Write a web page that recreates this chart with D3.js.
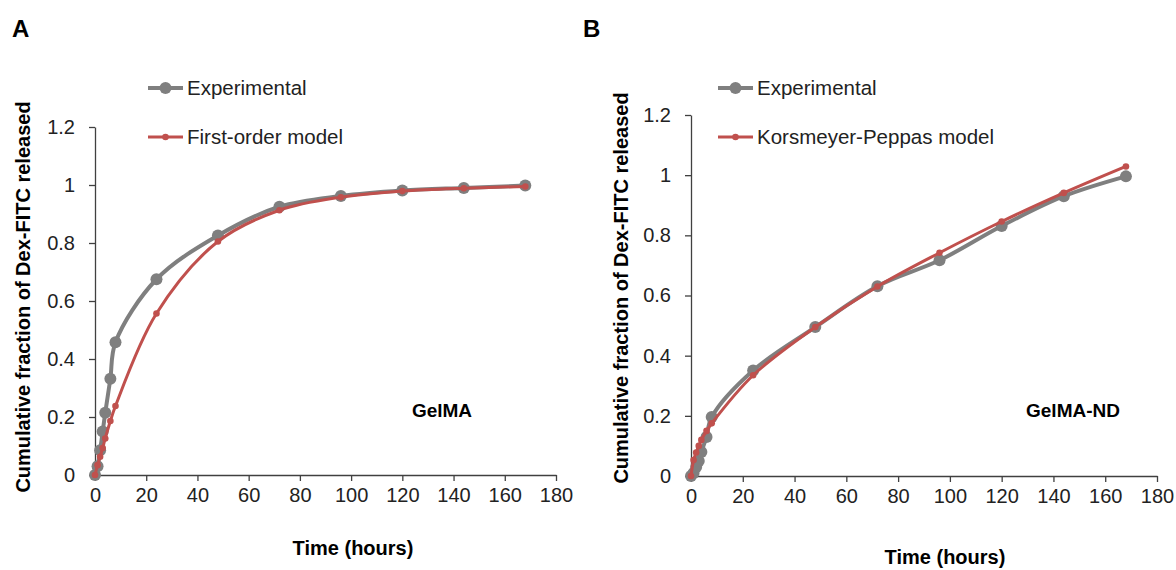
<!DOCTYPE html>
<html>
<head>
  <meta charset="utf-8">
  <title>Dex-FITC release</title>
  <script src="https://cdn.jsdelivr.net/npm/d3@7"></script>
  <style>
    body { margin: 0; background: #fff; }
    text { font-family: "Liberation Sans", Arial, sans-serif; }
  </style>
</head>
<body>
  <svg width="1176" height="570" id="mainsvg"></svg>
  <script>
    // sampling times (hours), shared by both panels
    const times = [0, 1, 2, 3, 4, 6, 8, 24, 48, 72, 96, 120, 144, 168];

    // panel A - GelMA
    const gelmaExp = [0, 0.03, 0.085, 0.15, 0.215, 0.332, 0.458, 0.675, 0.826, 0.925, 0.962, 0.981, 0.99, 0.998];
    const gelmaFirstOrder = [0, 0.034, 0.063, 0.093, 0.126, 0.186, 0.238, 0.557, 0.805, 0.913, 0.958, 0.979, 0.989, 0.995];

    // panel B - GelMA-ND
    const ndExp = [0, 0.01, 0.03, 0.05, 0.08, 0.13, 0.196, 0.351, 0.495, 0.631, 0.717, 0.831, 0.93, 0.996];
    const ndKorsmeyer = [0, 0.053, 0.078, 0.1, 0.12, 0.15, 0.175, 0.335, 0.495, 0.63, 0.742, 0.846, 0.941, 1.029];

    const xTicks = [0, 20, 40, 60, 80, 100, 120, 140, 160, 180];
    const yTicks = [0, 0.2, 0.4, 0.6, 0.8, 1, 1.2];

    const grey = '#7f7f7f';
    const red = '#c0504d';
    const axisColor = '#404040';

    const svg = d3.select('svg');

    const panels = [
      {
        letter: 'A', letterX: 12, name: 'GelMA', nameX: 442,
        exp: gelmaExp, model: gelmaFirstOrder, modelLabel: 'First-order model',
        x0: 95, x1: 556, y0: 475, y1: 127, legendX: 148,
        yTitleX: 30, yTitleY: 297, xTitleX: 353, xTitleY: 555
      },
      {
        letter: 'B', letterX: 583, name: 'GelMA-ND', nameX: 1073,
        exp: ndExp, model: ndKorsmeyer, modelLabel: 'Korsmeyer-Peppas model',
        x0: 691, x1: 1157, y0: 476, y1: 115, legendX: 718,
        yTitleX: 628, yTitleY: 288, xTitleX: 945, xTitleY: 564
      }
    ];

    panels.forEach(p => {
      const x = d3.scaleLinear().domain([0, 180]).range([p.x0, p.x1]);
      const y = d3.scaleLinear().domain([0, 1.2]).range([p.y0, p.y1]);
      const g = svg.append('g');

      // panel letter
      g.append('text')
        .attr('x', p.letterX).attr('y', 37)
        .attr('font-size', 24).attr('font-weight', 'bold')
        .text(p.letter);

      // axes
      const xAxis = g.append('g')
        .attr('transform', `translate(0,${p.y0})`)
        .call(d3.axisBottom(x).tickValues(xTicks).tickSize(6).tickPadding(7).tickSizeOuter(0));
      const yAxis = g.append('g')
        .attr('transform', `translate(${p.x0},0)`)
        .call(d3.axisLeft(y).tickValues(yTicks).tickSize(6).tickPadding(14).tickSizeOuter(0)
          .tickFormat(d => d === 0 || d === 1 ? d : d3.format('.1f')(d)));
      [xAxis, yAxis].forEach(a => {
        a.select('.domain').attr('stroke', axisColor).attr('stroke-width', 1.3);
        a.selectAll('.tick line').attr('stroke', axisColor).attr('stroke-width', 1.3);
        a.selectAll('.tick text')
          .attr('font-size', 20).attr('fill', '#222')
          .attr('font-family', '"Liberation Sans", Arial, sans-serif');
      });

      // axis titles
      g.append('text')
        .attr('x', p.xTitleX).attr('y', p.xTitleY)
        .attr('text-anchor', 'middle')
        .attr('font-size', 20).attr('font-weight', 'bold')
        .text('Time (hours)');
      g.append('text')
        .attr('transform', `translate(${p.yTitleX},${p.yTitleY}) rotate(-90)`)
        .attr('text-anchor', 'middle')
        .attr('font-size', 20).attr('font-weight', 'bold')
        .text('Cumulative fraction of Dex-FITC released');

      // sample label
      g.append('text')
        .attr('x', p.nameX).attr('y', 417)
        .attr('text-anchor', 'middle')
        .attr('font-size', 19).attr('font-weight', 'bold')
        .text(p.name);

      const line = d3.line()
        .x((d, i) => x(times[i]))
        .y(d => y(d))
        .curve(d3.curveCatmullRom.alpha(0.5));

      // experimental series
      g.append('path')
        .datum(p.exp)
        .attr('d', line)
        .attr('fill', 'none')
        .attr('stroke', grey)
        .attr('stroke-width', 4);
      g.selectAll('.exp-dot')
        .data(p.exp)
        .join('circle')
        .attr('class', 'exp-dot')
        .attr('cx', (d, i) => x(times[i]))
        .attr('cy', d => y(d))
        .attr('r', 6)
        .attr('fill', grey);

      // model series
      g.append('path')
        .datum(p.model)
        .attr('d', line)
        .attr('fill', 'none')
        .attr('stroke', red)
        .attr('stroke-width', 3);
      g.selectAll('.model-dot')
        .data(p.model)
        .join('circle')
        .attr('class', 'model-dot')
        .attr('cx', (d, i) => x(times[i]))
        .attr('cy', d => y(d))
        .attr('r', 3.3)
        .attr('fill', red);

      // legend
      const legend = [
        { label: 'Experimental', color: grey, w: 4, r: 6, y: 88 },
        { label: p.modelLabel, color: red, w: 3, r: 3.3, y: 137 }
      ];
      const lg = g.selectAll('.legend')
        .data(legend)
        .join('g')
        .attr('class', 'legend')
        .attr('transform', d => `translate(${p.legendX},${d.y})`);
      lg.append('line')
        .attr('x1', 0).attr('x2', 35)
        .attr('stroke', d => d.color)
        .attr('stroke-width', d => d.w);
      lg.append('circle')
        .attr('cx', 17.5).attr('r', d => d.r)
        .attr('fill', d => d.color);
      lg.append('text')
        .attr('x', 39).attr('y', 7)
        .attr('font-size', 20.5).attr('fill', '#222')
        .text(d => d.label);
    });
  </script>
</body>
</html>
